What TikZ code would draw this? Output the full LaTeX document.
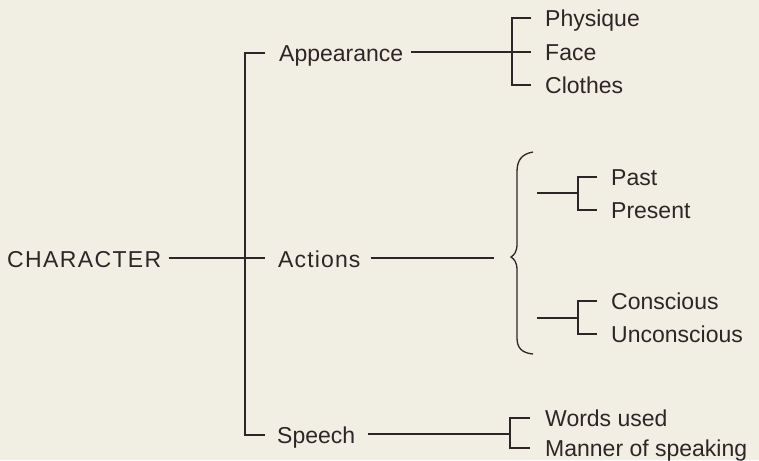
\documentclass[tikz,border=0pt]{standalone}
\usepackage{fontspec}
\setmainfont{Liberation Sans}
\begin{document}
\begin{tikzpicture}[x=1pt,y=-1pt,
  lbl/.style={anchor=base west,inner sep=0pt,font=\fontsize{23}{26}\selectfont,text=ink},
  wire/.style={draw=ink,line width=1.5pt,line cap=butt,line join=miter}]
\definecolor{paper}{HTML}{F1EEE3}
\definecolor{ink}{HTML}{2E2626}
\fill[paper] (0,0) rectangle (759,460);
\useasboundingbox (0,0) rectangle (759,460);

% labels
\node[lbl] (char) at (7,267) {\addfontfeature{LetterSpace=6}CHARACTER};
\node[lbl] (app) at (279,62) {Appearance};
\node[lbl] (act) at (278,267) {\addfontfeature{LetterSpace=5}Actions};
\node[lbl] (sp) at (277,443) {Speech};
\node[lbl] (phys) at (545,27) {Physique};
\node[lbl] (face) at (545,60) {Face};
\node[lbl] (cloth) at (545,93) {Clothes};
\node[lbl] (past) at (611,185) {Past};
\node[lbl] (pres) at (611,218) {Present};
\node[lbl] (cons) at (611,309) {Conscious};
\node[lbl] (uncons) at (611,342) {Unconscious};
\node[lbl] (words) at (545,426) {Words used};
\node[lbl] (manner) at (545,456) {Manner of speaking};

% junction points
\coordinate (trunkTop) at (245,53);
\coordinate (trunkMid) at (245,258);
\coordinate (trunkBot) at (245,435);
\coordinate (appFork) at (512,52);
\coordinate (actEnd) at (494,258);
\coordinate (pastStart) at (537,193);
\coordinate (pastFork) at (578,193);
\coordinate (consStart) at (537,318);
\coordinate (consFork) at (578,318);
\coordinate (spFork) at (510,434);

% main trunk
\draw[wire] ([xshift=-14pt]app.west |- trunkTop) -- (trunkTop) -- (trunkBot)
  -- ([xshift=-12pt]sp.west |- trunkBot);
\draw[wire] ([xshift=7pt]char.east |- trunkMid) -- ([xshift=-13pt]act.west |- trunkMid);

% appearance
\draw[wire] ([xshift=8pt]app.east |- appFork) -- (appFork) -- ([xshift=-14pt]face.west |- appFork);
\draw[wire] ([xshift=-14pt]phys.west |- 0,18) -- (appFork |- 0,18) -- (appFork |- 0,85)
  -- ([xshift=-14pt]cloth.west |- 0,85);

% actions and brace
\draw[wire] ([xshift=10pt]act.east |- actEnd) -- (actEnd);
\draw[draw=ink,line width=1.3pt] (533,152) .. controls (521,154) and (517,161) .. (517,172)
  -- (517,244) .. controls (517,252) and (514,255) .. (511,257)
  .. controls (514,259) and (517,262) .. (517,270)
  -- (517,338) .. controls (517,348) and (522,353) .. (533,354);

\draw[wire] (pastStart) -- (pastFork);
\draw[wire] ([xshift=-14pt]past.west |- 0,177) -- (pastFork |- 0,177) -- (pastFork |- 0,210)
  -- ([xshift=-14pt]pres.west |- 0,210);
\draw[wire] (consStart) -- (consFork);
\draw[wire] ([xshift=-14pt]cons.west |- 0,301) -- (consFork |- 0,301) -- (consFork |- 0,334)
  -- ([xshift=-14pt]uncons.west |- 0,334);

% speech
\draw[wire] ([xshift=13pt]sp.east |- spFork) -- (spFork);
\draw[wire] ([xshift=-15pt]words.west |- 0,418) -- (spFork |- 0,418) -- (spFork |- 0,448)
  -- ([xshift=-15pt]manner.west |- 0,448);
\end{tikzpicture}
\end{document}
